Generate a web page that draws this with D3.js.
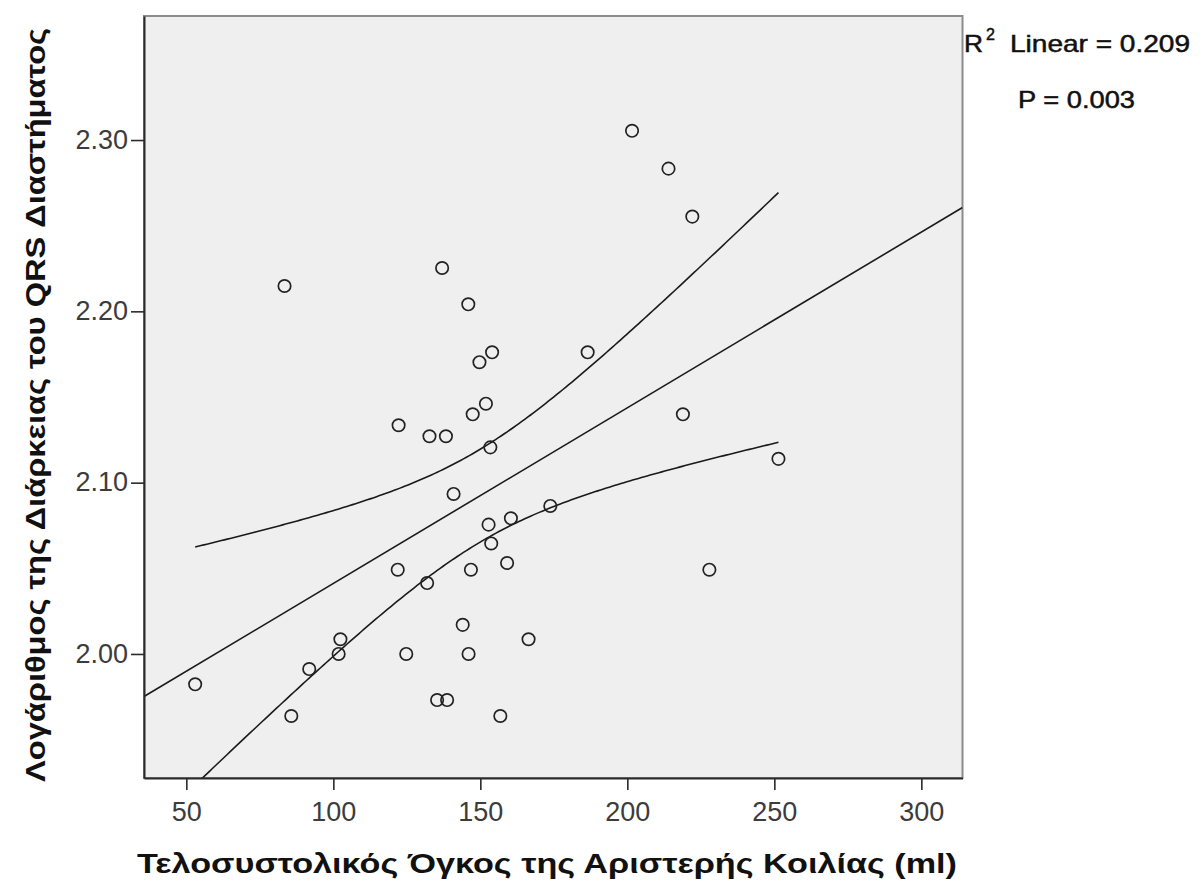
<!DOCTYPE html>
<html><head><meta charset="utf-8">
<script src="https://cdn.jsdelivr.net/npm/d3@7"></script>
<style>body{margin:0;background:#fff} svg{display:block}</style>
</head><body>
<svg id="c" width="1203" height="884"></svg>
<script>
// ---- data ----
const volumes = [53.0, 83.4, 85.7, 91.8, 102.4, 101.8, 121.9, 122.2, 124.8, 131.9,
  132.7, 135.3, 137.0, 138.3, 138.7, 140.9, 144.0, 146.0, 145.9, 146.8,
  147.4, 149.7, 151.9, 153.4, 152.8, 153.7, 154.0, 156.8, 159.1, 160.4,
  166.4, 173.8, 186.5, 201.6, 214.0, 218.9, 222.1, 227.9, 251.4];
const logQRS = [1.9823, 2.2148, 1.9638, 1.9912, 2.0086, 2.0000, 2.0492, 2.1335, 2.0000, 2.0414,
  2.1271, 1.9731, 2.2253, 2.1271, 1.9731, 2.0934, 2.0170, 2.0000, 2.2041, 2.0492,
  2.1399, 2.1703, 2.1461, 2.1206, 2.0755, 2.0645, 2.1761, 1.9638, 2.0531, 2.0792,
  2.0086, 2.0864, 2.1761, 2.3054, 2.2833, 2.1399, 2.2553, 2.0492, 2.1139];
const xTicks = [50, 100, 150, 200, 250, 300];
const yTicks = [2.00, 2.10, 2.20, 2.30];
const xDomain = [35.6, 314.0];
const yDomain = [1.9276, 2.3724];
const xTitle = "Τελοσυστολικός Όγκος της Αριστερής Κοιλίας (ml)";
const yTitle = "Λογάριθμος της Διάρκειας του QRS Διαστήματος";
const r2Label = ["R", "2", "Linear = 0.209"];
const pLabel = "P = 0.003";
const confLevel = 0.95;

// ---- layout ----
const L = 144, R = 962.5, T = 16, B = 778;
const svg = d3.select("#c");
const x = d3.scaleLinear().domain(xDomain).range([L, R]);
const y = d3.scaleLinear().domain(yDomain).range([B, T]);

// ---- statistics ----
const n = volumes.length;
const mx = d3.mean(volumes), my = d3.mean(logQRS);
let sxx = 0, sxy = 0, syy = 0;
for (let i = 0; i < n; i++) {
  const dx = volumes[i] - mx, dy = logQRS[i] - my;
  sxx += dx * dx; sxy += dx * dy; syy += dy * dy;
}
const slope = sxy / sxx, intercept = my - slope * mx;
const sse = syy - slope * sxy;
const s = Math.sqrt(sse / (n - 2));

function lgamma(z) {
  const g = 7, c = [0.99999999999980993, 676.5203681218851, -1259.1392167224028,
    771.32342877765313, -176.61502916214059, 12.507343278686905,
    -0.13857109526572012, 9.9843695780195716e-6, 1.5056327351493116e-7];
  z -= 1; let a = c[0]; const t = z + g + 0.5;
  for (let i = 1; i < 9; i++) a += c[i] / (z + i);
  return 0.5 * Math.log(2 * Math.PI) + (z + 0.5) * Math.log(t) - t + Math.log(a);
}
function tcdf(t, v) {
  const k = Math.exp(lgamma((v + 1) / 2) - lgamma(v / 2)) / Math.sqrt(v * Math.PI);
  const f = u => k * Math.pow(1 + u * u / v, -(v + 1) / 2);
  const N = 2000, h = t / N; let sum = f(0) + f(t);
  for (let i = 1; i < N; i++) sum += f(i * h) * (i % 2 ? 4 : 2);
  return 0.5 + sum * h / 3;
}
function tinv(p, v) {
  let lo = 0, hi = 10;
  for (let i = 0; i < 60; i++) { const m = (lo + hi) / 2; if (tcdf(m, v) < p) lo = m; else hi = m; }
  return (lo + hi) / 2;
}
const tc = tinv(1 - (1 - confLevel) / 2, n - 2);
const fit = v => intercept + slope * v;
const half = v => tc * s * Math.sqrt(1 / n + (v - mx) * (v - mx) / sxx);

// ---- plot background ----
svg.append("rect").attr("x", L).attr("y", T).attr("width", R - L).attr("height", B - T)
  .attr("fill", "#efefef").attr("stroke", "#8c8c8c").attr("stroke-width", 2);

svg.append("clipPath").attr("id", "clip").append("rect")
  .attr("x", L).attr("y", T).attr("width", R - L).attr("height", B - T);
const g = svg.append("g").attr("clip-path", "url(#clip)");

const line = d3.line().x(d => x(d[0])).y(d => y(d[1]));
const xmin = d3.min(volumes), xmax = d3.max(volumes);
const samples = d3.range(0, 201).map(i => xmin + (xmax - xmin) * i / 200);

g.append("path").attr("d", line([[xDomain[0], fit(xDomain[0])], [xDomain[1], fit(xDomain[1])]]))
  .attr("fill", "none").attr("stroke", "#1a1a1a").attr("stroke-width", 1.6);
g.append("path").attr("d", line(samples.map(v => [v, fit(v) + half(v)])))
  .attr("fill", "none").attr("stroke", "#1a1a1a").attr("stroke-width", 1.6);
g.append("path").attr("d", line(samples.map(v => [v, fit(v) - half(v)])))
  .attr("fill", "none").attr("stroke", "#1a1a1a").attr("stroke-width", 1.6);

g.selectAll("circle.pt").data(volumes.map((v, i) => [v, logQRS[i]])).enter()
  .append("circle").attr("class", "pt")
  .attr("cx", d => x(d[0])).attr("cy", d => y(d[1])).attr("r", 6.2)
  .attr("fill", "none").attr("stroke", "#222").attr("stroke-width", 1.7);

// ---- axes ----
const font = "'Liberation Sans', Arial, sans-serif";
const ax = svg.append("g").attr("transform", `translate(0,${B})`)
  .call(d3.axisBottom(x).tickValues(xTicks).tickFormat(d3.format("d")).tickSize(12).tickSizeOuter(0).tickPadding(12));
const ay = svg.append("g").attr("transform", `translate(${L},0)`)
  .call(d3.axisLeft(y).tickValues(yTicks).tickFormat(d3.format(".2f")).tickSize(13).tickSizeOuter(0).tickPadding(3));
[ax, ay].forEach(a => {
  a.select(".domain").attr("stroke", "#2a2a2a").attr("stroke-width", 2);
  a.selectAll(".tick line").attr("stroke", "#2a2a2a").attr("stroke-width", 1.6);
  a.selectAll(".tick text").attr("fill", "#3c3c3c").style("font-family", font).style("font-size", "27px");
});
ay.selectAll(".tick text").attr("dy", "0.3em");

// ---- titles ----
svg.append("text").attr("x", (137 + 957) / 2).attr("y", 873).attr("text-anchor", "middle")
  .style("font-family", font).style("font-weight", "bold").style("font-size", "28px")
  .attr("fill", "#111").attr("textLength", 820).attr("lengthAdjust", "spacingAndGlyphs").text(xTitle);
svg.append("text").attr("transform", "translate(45,405) rotate(-90)").attr("text-anchor", "middle")
  .style("font-family", font).style("font-weight", "bold").style("font-size", "28px")
  .attr("fill", "#111").attr("textLength", 754).attr("lengthAdjust", "spacingAndGlyphs").text(yTitle);

// ---- annotations ----
const ann = svg.append("g").style("font-family", font).attr("fill", "#111")
  .attr("stroke", "#111").attr("stroke-width", 0.5);
ann.append("text").attr("x", 964).attr("y", 52).style("font-size", "24px")
  .attr("textLength", 19).attr("lengthAdjust", "spacingAndGlyphs").text(r2Label[0]);
ann.append("text").attr("x", 986).attr("y", 40).style("font-size", "16px").text(r2Label[1]);
ann.append("text").attr("x", 1010).attr("y", 52).style("font-size", "24px")
  .attr("textLength", 180).attr("lengthAdjust", "spacingAndGlyphs").text(r2Label[2]);
ann.append("text").attr("x", 1018).attr("y", 108).style("font-size", "24px")
  .attr("textLength", 117).attr("lengthAdjust", "spacingAndGlyphs").text(pLabel);
</script>
</body></html>
